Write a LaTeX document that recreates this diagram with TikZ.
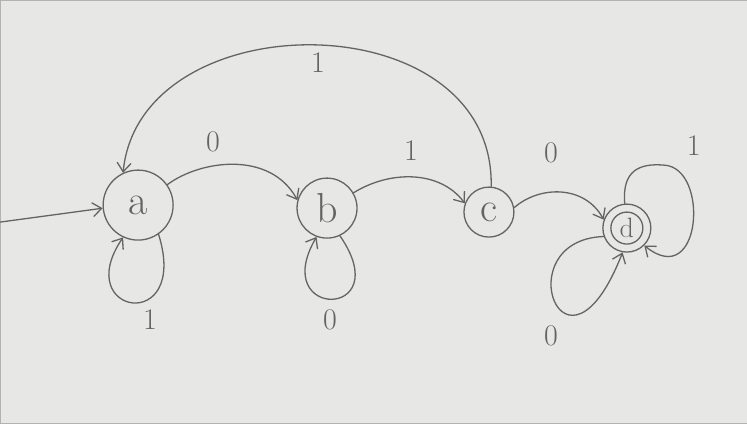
\documentclass[tikz,border=0pt]{standalone}
\usepackage{fontspec}
\usetikzlibrary{arrows.meta}
\definecolor{board}{RGB}{231,232,229}
\definecolor{ink}{RGB}{100,100,100}
\begin{document}
\begin{tikzpicture}[x=1pt,y=-1pt,
  ink line/.style={draw=ink, line width=1.3pt, line cap=round},
  arr/.style={ink line, -{Straight Barb[length=9pt,width=14pt]}},
  st/.style={circle, ink line, inner sep=0pt, font=\fontsize{42}{44}\selectfont, text=ink},
  lbl/.style={font=\fontsize{30}{32}\selectfont, text=ink}]
\fill[board, draw=gray!60] (0,0) rectangle (747,423);
\useasboundingbox (0,0) rectangle (747,423);
% states
\node[st, minimum size=70pt] (a) at (138,205) {a};
\node[st, minimum size=60pt] (b) at (327,208) {b};
\node[st, minimum size=50pt] (c) at (489,212) {c};
\node[st, minimum size=48pt] (d) at (627,228) {};
\node[st, minimum size=32pt, font=\fontsize{28}{30}\selectfont] (dd) at (627,228) {d};
% start
\coordinate (s) at (0,222);
\draw[arr] (s) .. controls (50,216) .. (a.185);
% transitions
\draw[arr] (a.35) .. controls (200,160) and (270,150) .. (b.165);
\node[lbl] (l1) at (213,142) {0};
\draw[arr] (b.30) .. controls (390,170) and (440,170) .. (c.160);
\node[lbl] (l2) at (411,150) {1};
\draw[arr] (c.10) .. controls (540,185) and (585,185) .. (d.160);
\node[lbl] (l3) at (551,153) {0};
\draw[arr] (c.85) .. controls (495,0) and (140,0) .. (a.115);
\node[lbl] (l4) at (318,62) {1};
% self loops
\draw[arr] (a.-55) .. controls (190,335) and (70,315) .. (a.-115);
\node[lbl] (l5) at (150,320) {1};
\draw[arr] (b.-65) .. controls (398,320) and (268,320) .. (b.-110);
\node[lbl] (l6) at (330,320) {0};
\coordinate (dtop) at (664,165);
\draw[arr] (d.95) .. controls (622,170) and (640,163) .. (dtop)
  .. controls (710,167) and (702,292) .. (d.-45);
\node[lbl] (l7) at (694,145) {1};
\draw[arr] (d.200) .. controls (505,240) and (565,400) .. (d.-100);
\node[lbl] (l8) at (551,336) {0};
\end{tikzpicture}
\end{document}
